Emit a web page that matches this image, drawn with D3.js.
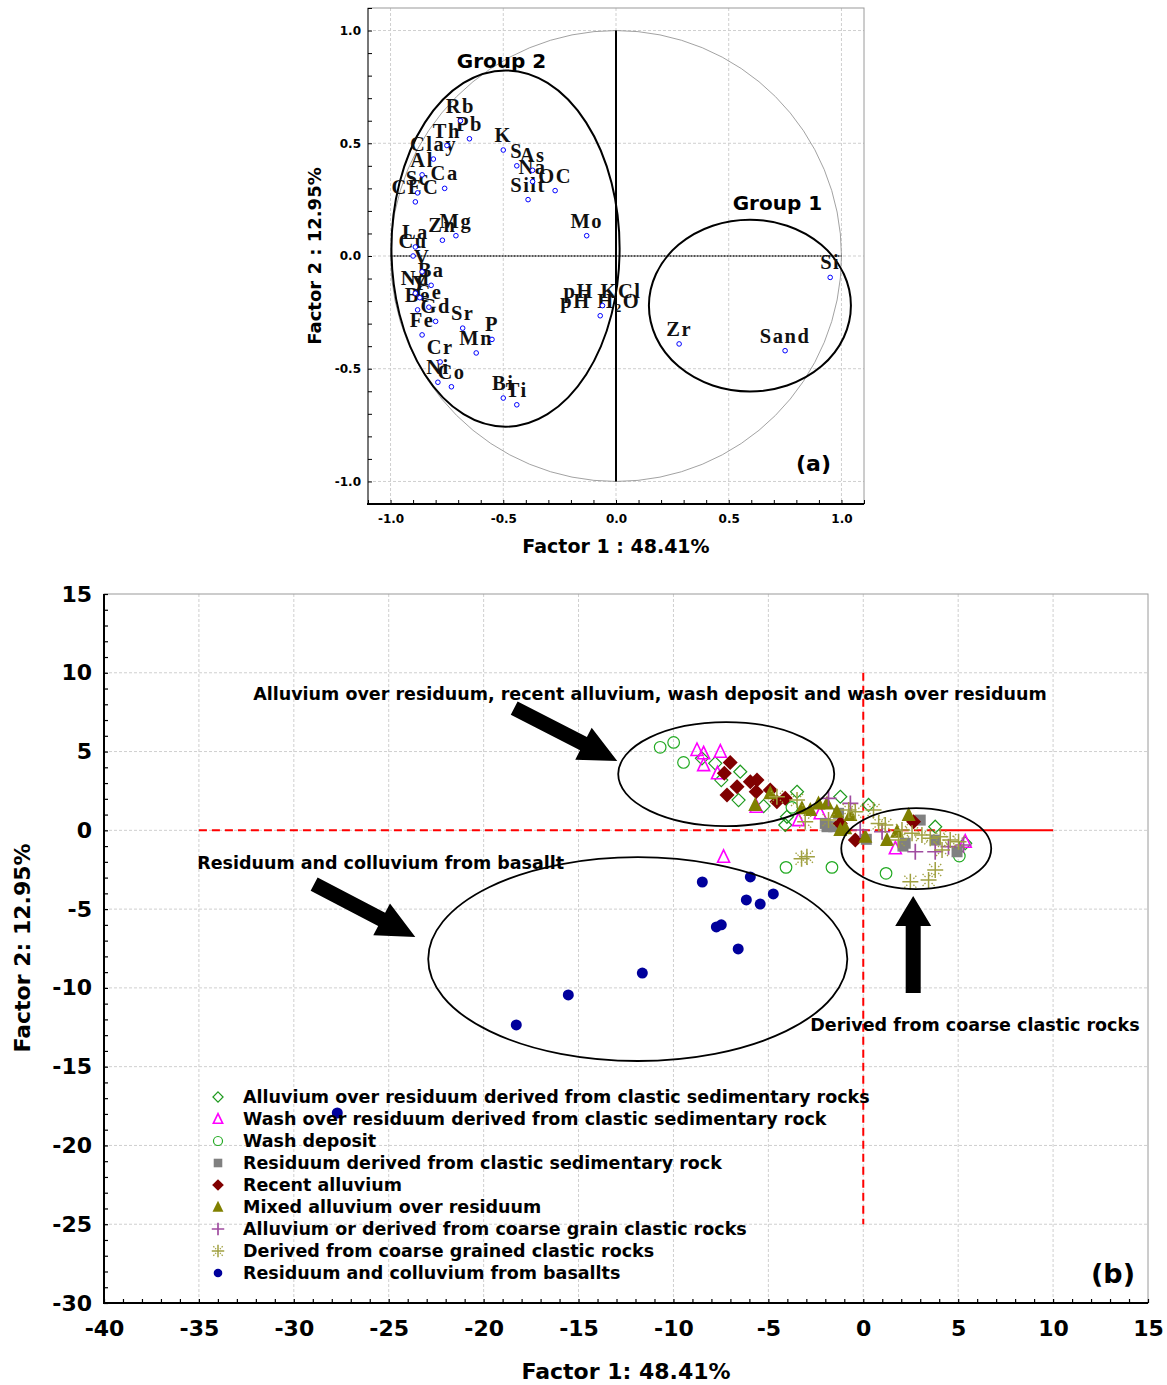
<!DOCTYPE html>
<html><head><meta charset="utf-8">
<script src="https://cdn.jsdelivr.net/npm/d3@7"></script>
<style>body{margin:0;background:#fff}</style>
</head><body>
<svg id="c" width="1167" height="1385"></svg>
<script>
// ---------------- Panel (a) data ----------------
const varNames = ["Rb","Pb","Th","Clay","Al","Ca","Sc","CEC","K","S","As","Na","OC","Silt","Mo","Mg","Zn","La","Cu","V","Ba","Nd","Y","Ce","Be","Gd","Sr","Fe","P","Mn","Cr","Ni","Co","Bi","Ti","pH KCl","pH H2O","Zr","Sand","Si"];
const loadF1 = [-0.69,-0.65,-0.75,-0.81,-0.86,-0.76,-0.88,-0.89,-0.50,-0.44,-0.37,-0.37,-0.27,-0.39,-0.13,-0.71,-0.77,-0.89,-0.90,-0.86,-0.82,-0.89,-0.87,-0.83,-0.88,-0.80,-0.68,-0.86,-0.55,-0.62,-0.78,-0.79,-0.73,-0.50,-0.44,-0.06,-0.07,0.28,0.75,0.95];
const loadF2 = [0.60,0.52,0.49,0.43,0.36,0.30,0.28,0.24,0.47,0.40,0.38,0.33,0.29,0.25,0.09,0.09,0.07,0.04,0.00,-0.07,-0.13,-0.165,-0.185,-0.227,-0.239,-0.29,-0.32,-0.35,-0.37,-0.43,-0.47,-0.56,-0.58,-0.63,-0.66,-0.22,-0.265,-0.39,-0.42,-0.095];
const topTicks = [-1, -0.5, 0, 0.5, 1];
const topTickLabels = ["-1.0","-0.5","0.0","0.5","1.0"];
const groupNames = ["Group 2","Group 1"];
const groupCx = [-0.49, 0.594];
const groupCy = [0.033, -0.22];
const groupRx = [0.506, 0.448];
const groupRy = [0.79, 0.381];
const groupLabelX = [-0.508, 0.716];
const groupLabelY = [0.836, 0.206];

// ---------------- Panel (b) data ----------------
const bxTicks = [-40,-35,-30,-25,-20,-15,-10,-5,0,5,10,15];
const bxTickLabels = ["-40","-35","-30","-25","-20","-15","-10","-5","0","5","10","15"];
const byTicks = [-30,-25,-20,-15,-10,-5,0,5,10,15];
const byTickLabels = ["-30","-25","-20","-15","-10","-5","0","5","10","15"];

const alluviumOverResiduum = [[-8.50,4.57],[-7.80,4.25],[-6.48,3.72],[-7.48,3.19],[-6.57,1.92],[-5.25,1.54],[-3.49,2.45],[-4.02,0.86],[-4.11,0.34],[-1.21,2.13],[0.28,1.61],[3.79,0.23],[5.37,-0.82]];
const washOverResiduum = [[-8.76,5.10],[-8.41,4.89],[-7.53,4.99],[-8.41,4.14],[-7.68,3.62],[-5.64,1.50],[-3.41,0.65],[-2.27,1.08],[-7.36,-1.68],[1.69,-1.14],[5.37,-0.72]];
const washDeposit = [[-10.70,5.27],[-9.99,5.58],[-9.47,4.31],[-3.76,1.46],[-4.07,-2.35],[-1.65,-2.35],[1.20,-2.73],[5.06,-1.63]];
const residuum = [[-2.00,0.44],[-1.56,0.23],[-1.30,1.08],[-1.91,0.23],[0.16,-0.57],[2.21,-0.82],[2.09,-1.00],[3.00,0.65],[3.79,-0.62],[4.94,-1.36]];
const recentAlluvium = [[-7.01,4.31],[-7.32,3.62],[-6.65,2.77],[-7.18,2.24],[-5.95,3.08],[-5.60,3.19],[-5.64,2.45],[-4.90,2.56],[-4.55,1.81],[-4.11,2.03],[-1.21,0.44],[-0.42,-0.62],[2.65,0.55]];
const mixedAlluvium = [[-5.69,1.61],[-4.90,2.35],[-3.23,1.40],[-2.79,1.29],[-2.36,1.71],[-1.91,1.71],[-1.39,1.18],[-0.68,0.97],[-0.95,0.13],[-1.21,0.02],[0.11,-0.41],[1.25,-0.62],[1.78,-0.09],[2.39,0.97]];
const coarseGrainAlluvium = [[-1.83,2.03],[-0.68,1.71],[-0.16,0.02],[0.99,-0.09],[2.74,-1.36],[3.79,-1.36],[4.49,-1.04],[5.28,-0.93]];
const coarseGrained = [[-4.55,2.13],[-3.49,1.92],[-3.06,0.55],[-1.83,0.65],[-0.77,1.29],[-0.42,1.18],[0.54,1.29],[0.81,0.44],[1.16,0.34],[1.86,-0.62],[2.04,0.02],[2.57,-0.19],[3.09,-0.30],[3.53,-0.51],[4.06,-0.41],[4.58,-0.62],[5.02,-0.72],[4.15,-1.25],[-2.97,-1.68],[-3.25,-1.80],[3.79,-2.52],[3.44,-3.15],[2.48,-3.26]];
const basalts = [[-8.48,-3.28],[-5.95,-2.96],[-4.74,-4.04],[-6.16,-4.42],[-5.43,-4.68],[-7.74,-6.13],[-7.48,-6.00],[-6.59,-7.53],[-11.64,-9.06],[-15.54,-10.45],[-18.28,-12.35],[-27.71,-17.94]];

const seriesNames = ["Alluvium over residuum derived from clastic sedimentary rocks","Wash over residuum derived from clastic sedimentary rock","Wash deposit","Residuum derived from clastic sedimentary rock","Recent alluvium","Mixed alluvium over residuum","Alluvium or derived from coarse grain clastic rocks","Derived from coarse grained clastic rocks","Residuum and colluvium from basallts"];
const seriesData = [alluviumOverResiduum, washOverResiduum, washDeposit, residuum, recentAlluvium, mixedAlluvium, coarseGrainAlluvium, coarseGrained, basalts];
const seriesMarker = ["openDiamond","openTriangle","openCircle","square","diamond","triangle","plus","asterisk","dot"];
const seriesColor = ["#1e9a1e","#ff00ff","#22aa22","#808080","#800000","#808000","#a04ca0","#a0a040","#00009c"];

const clusterCx = [-7.22, 2.79, -11.88];
const clusterCy = [3.57, -1.16, -8.17];
const clusterRx = [5.69, 3.95, 11.04];
const clusterRy = [3.30, 2.57, 6.47];

const annotTexts = ["Alluvium over residuum, recent alluvium, wash deposit and wash over residuum","Residuum and colluvium from basallt","Derived from coarse clastic rocks"];
const annotX = [-32.14, -35.09, -2.79];
const annotY = [8.27, -2.45, -12.74];
// arrows: tail (x1,y1) -> tip (x2,y2)
const arrowX1 = [-18.39, -28.93, 2.63];
const arrowY1 = [7.76, -3.41, -10.32];
const arrowX2 = [-12.96, -23.60, 2.63];
const arrowY2 = [4.40, -6.77, -4.17];

// ---------------- drawing ----------------
const svg = d3.select("#c");
svg.append("rect").attr("width",1167).attr("height",1385).attr("fill","#fff");
const SANS = "'DejaVu Sans', Verdana, sans-serif";
const SERIF = "'Liberation Serif', 'Times New Roman', serif";

// ===== Panel (a) =====
const xa = d3.scaleLinear([-1.1,1.1],[368,864]);
const ya = d3.scaleLinear([-1.1,1.1],[504,8]);
const ga = svg.append("g");

ga.append("g").selectAll("line").data(topTicks).join("line")
  .attr("x1",d=>xa(d)).attr("x2",d=>xa(d)).attr("y1",ya(1.1)).attr("y2",ya(-1.1))
  .attr("stroke","#cfcfcf").attr("stroke-dasharray","3,2");
ga.append("g").selectAll("line").data(topTicks).join("line")
  .attr("y1",d=>ya(d)).attr("y2",d=>ya(d)).attr("x1",xa(-1.1)).attr("x2",xa(1.1))
  .attr("stroke","#cfcfcf").attr("stroke-dasharray","3,2");

ga.append("rect").attr("x",xa(-1.1)).attr("y",ya(1.1)).attr("width",xa(1.1)-xa(-1.1)).attr("height",ya(-1.1)-ya(1.1))
  .attr("fill","none").attr("stroke","#9a9a9a").attr("stroke-width",1);
ga.append("line").attr("x1",xa(-1.1)).attr("x2",xa(-1.1)).attr("y1",ya(1.1)).attr("y2",ya(-1.1)).attr("stroke","#777").attr("stroke-width",2);
ga.append("line").attr("x1",xa(-1.1)-1).attr("x2",xa(1.1)).attr("y1",ya(-1.1)).attr("y2",ya(-1.1)).attr("stroke","#000").attr("stroke-width",2);

const topMinor = d3.range(-11,12).map(i=>i/10);
ga.append("g").attr("transform",`translate(0,${ya(-1.1)})`)
  .call(d3.axisBottom(xa).tickValues(topMinor).tickSize(-4).tickFormat(""))
  .call(g=>g.select(".domain").remove()).selectAll("line").attr("stroke","#000");
ga.append("g").attr("transform",`translate(${xa(-1.1)},0)`)
  .call(d3.axisLeft(ya).tickValues(topMinor).tickSize(-4).tickFormat(""))
  .call(g=>g.select(".domain").remove()).selectAll("line").attr("stroke","#000");

ga.append("g").attr("transform",`translate(0,${ya(-1.1)})`)
  .call(d3.axisBottom(xa).tickValues(topTicks).tickFormat((d,i)=>topTickLabels[i]).tickSize(0).tickPadding(10))
  .call(g=>g.select(".domain").remove())
  .selectAll("text").attr("font-family",SANS).attr("font-weight","bold").attr("font-size",12).attr("fill","#000");
ga.append("g").attr("transform",`translate(${xa(-1.1)},0)`)
  .call(d3.axisLeft(ya).tickValues(topTicks).tickFormat((d,i)=>topTickLabels[i]).tickSize(0).tickPadding(7))
  .call(g=>g.select(".domain").remove())
  .selectAll("text").attr("font-family",SANS).attr("font-weight","bold").attr("font-size",12).attr("fill","#000");

ga.append("ellipse").attr("cx",xa(0)).attr("cy",ya(0)).attr("rx",xa(1)-xa(0)).attr("ry",ya(0)-ya(1))
  .attr("fill","none").attr("stroke","#8a8a8a").attr("stroke-width",0.8);
ga.append("line").attr("x1",xa(-1)).attr("x2",xa(1)).attr("y1",ya(0)).attr("y2",ya(0))
  .attr("stroke","#222").attr("stroke-width",1.6).attr("stroke-dasharray","2,1");
ga.append("line").attr("x1",xa(0)).attr("x2",xa(0)).attr("y1",ya(1)).attr("y2",ya(-1))
  .attr("stroke","#000").attr("stroke-width",2);

groupNames.forEach((n,i)=>{
  ga.append("ellipse").attr("cx",xa(groupCx[i])).attr("cy",ya(groupCy[i]))
    .attr("rx",xa(groupRx[i])-xa(0)).attr("ry",ya(0)-ya(groupRy[i]))
    .attr("fill","none").attr("stroke","#000").attr("stroke-width",2);
  ga.append("text").attr("x",xa(groupLabelX[i])).attr("y",ya(groupLabelY[i]))
    .attr("text-anchor","middle").attr("font-family",SANS).attr("font-weight","bold").attr("font-size",20).text(n);
});

varNames.forEach((n,i)=>{
  const px = xa(loadF1[i]), py = ya(loadF2[i]);
  const t = ga.append("text").attr("x",px).attr("y",py-8).attr("text-anchor","middle")
    .attr("font-family",SERIF).attr("font-weight","bold").attr("font-size",20.5).attr("letter-spacing","1.5px").attr("fill","#111");
  if (n === "pH H2O") {
    t.append("tspan").text("pH H");
    t.append("tspan").attr("font-size",13).attr("dy",4).text("2");
    t.append("tspan").attr("dy",-4).text("O");
  } else t.text(n);
});
ga.append("g").selectAll("circle").data(varNames).join("circle")
  .attr("cx",(d,i)=>xa(loadF1[i])).attr("cy",(d,i)=>ya(loadF2[i])).attr("r",2.3)
  .attr("fill","#fff").attr("stroke","#0000ff").attr("stroke-width",1);

ga.append("text").attr("x",xa(0.876)).attr("y",ya(-0.955)).attr("text-anchor","middle")
  .attr("font-family",SANS).attr("font-weight","bold").attr("font-size",22).text("(a)");
ga.append("text").attr("x",xa(0)).attr("y",553).attr("text-anchor","middle")
  .attr("font-family",SANS).attr("font-weight","bold").attr("font-size",19).text("Factor 1 : 48.41%");
ga.append("text").attr("transform",`translate(321,${ya(0)}) rotate(-90)`).attr("text-anchor","middle")
  .attr("font-family",SANS).attr("font-weight","bold").attr("font-size",18).text("Factor 2 : 12.95%");

// ===== Panel (b) =====
const xb = d3.scaleLinear([-40,15],[104,1148]);
const yb = d3.scaleLinear([-30,15],[1303,594]);
const gb = svg.append("g");

gb.append("g").selectAll("line").data(bxTicks.slice(1,-1)).join("line")
  .attr("x1",d=>xb(d)).attr("x2",d=>xb(d)).attr("y1",yb(15)).attr("y2",yb(-30))
  .attr("stroke","#cfcfcf").attr("stroke-dasharray","3,2");
gb.append("g").selectAll("line").data(byTicks.slice(1,-1)).join("line")
  .attr("y1",d=>yb(d)).attr("y2",d=>yb(d)).attr("x1",xb(-40)).attr("x2",xb(15))
  .attr("stroke","#cfcfcf").attr("stroke-dasharray","3,2");

gb.append("rect").attr("x",xb(-40)).attr("y",yb(15)).attr("width",xb(15)-xb(-40)).attr("height",yb(-30)-yb(15))
  .attr("fill","none").attr("stroke","#9a9a9a").attr("stroke-width",1);
gb.append("line").attr("x1",xb(-40)).attr("x2",xb(-40)).attr("y1",yb(15)).attr("y2",yb(-30)).attr("stroke","#000").attr("stroke-width",2);
gb.append("line").attr("x1",xb(-40)-1).attr("x2",xb(15)).attr("y1",yb(-30)).attr("y2",yb(-30)).attr("stroke","#000").attr("stroke-width",2);

gb.append("g").attr("transform",`translate(0,${yb(-30)})`)
  .call(d3.axisBottom(xb).tickValues(d3.range(-40,16,1)).tickSize(-4).tickFormat(""))
  .call(g=>g.select(".domain").remove()).selectAll("line").attr("stroke","#000").attr("stroke-width",1.2);
gb.append("g").attr("transform",`translate(${xb(-40)},0)`)
  .call(d3.axisLeft(yb).tickValues(d3.range(-30,16,1)).tickSize(-4).tickFormat(""))
  .call(g=>g.select(".domain").remove()).selectAll("line").attr("stroke","#000").attr("stroke-width",1.2);

gb.append("g").attr("transform",`translate(0,${yb(-30)})`)
  .call(d3.axisBottom(xb).tickValues(bxTicks).tickFormat((d,i)=>bxTickLabels[i]).tickSize(0).tickPadding(17))
  .call(g=>g.select(".domain").remove())
  .selectAll("text").attr("font-family",SANS).attr("font-weight","bold").attr("font-size",22).attr("fill","#000");
gb.append("g").attr("transform",`translate(${xb(-40)},0)`)
  .call(d3.axisLeft(yb).tickValues(byTicks).tickFormat((d,i)=>byTickLabels[i]).tickSize(0).tickPadding(12))
  .call(g=>g.select(".domain").remove())
  .selectAll("text").attr("font-family",SANS).attr("font-weight","bold").attr("font-size",22).attr("fill","#000");

gb.append("line").attr("x1",xb(-35)).attr("x2",xb(4)).attr("y1",yb(0)).attr("y2",yb(0))
  .attr("stroke","#ff0000").attr("stroke-width",2).attr("stroke-dasharray","8,5");
gb.append("line").attr("x1",xb(4)).attr("x2",xb(10)).attr("y1",yb(0)).attr("y2",yb(0))
  .attr("stroke","#ff0000").attr("stroke-width",2);
gb.append("line").attr("x1",xb(0)).attr("x2",xb(0)).attr("y1",yb(10)).attr("y2",yb(-25))
  .attr("stroke","#ff0000").attr("stroke-width",2).attr("stroke-dasharray","8,5");

function marker(g, type, color, s) {
  switch(type) {
    case "openDiamond": g.append("path").attr("d",`M0,${-6.5*s}L${6.5*s},0L0,${6.5*s}L${-6.5*s},0Z`).attr("fill","none").attr("stroke",color).attr("stroke-width",1.2); break;
    case "openTriangle": g.append("path").attr("d",`M0,${-7*s}L${6*s},${5.5*s}L${-6*s},${5.5*s}Z`).attr("fill","none").attr("stroke",color).attr("stroke-width",1.6); break;
    case "openCircle": g.append("circle").attr("r",5.8*s).attr("fill","none").attr("stroke",color).attr("stroke-width",1.2); break;
    case "square": g.append("rect").attr("x",-5.5*s).attr("y",-5.5*s).attr("width",11*s).attr("height",11*s).attr("fill",color); break;
    case "diamond": g.append("path").attr("d",`M0,${-7.5*s}L${7.5*s},0L0,${7.5*s}L${-7.5*s},0Z`).attr("fill",color); break;
    case "triangle": g.append("path").attr("d",`M0,${-8*s}L${7*s},${6*s}L${-7*s},${6*s}Z`).attr("fill",color); break;
    case "plus": g.append("path").attr("d",`M0,${-8*s}V${8*s}M${-8*s},0H${8*s}`).attr("stroke",color).attr("stroke-width",1.7); break;
    case "asterisk":
      g.append("path").attr("d",`M0,${-8*s}V${8*s}M${-8*s},0H${8*s}`).attr("stroke",color).attr("stroke-width",1.5);
      g.append("path").attr("d",`M${-6*s},${-6*s}L${-2.5*s},${-2.5*s}M${6*s},${-6*s}L${2.5*s},${-2.5*s}M${-6*s},${6*s}L${-2.5*s},${2.5*s}M${6*s},${6*s}L${2.5*s},${2.5*s}`)
        .attr("stroke",color).attr("stroke-width",1.3).attr("stroke-dasharray","1.5,1.2"); break;
    case "dot": g.append("circle").attr("r",5.5*s).attr("fill",color); break;
  }
}

seriesData.forEach((data,si)=>{
  const gs = gb.append("g");
  data.forEach(p=>{
    const g = gs.append("g").attr("transform",`translate(${xb(p[0])},${yb(p[1])})`);
    marker(g, seriesMarker[si], seriesColor[si], 1);
  });
});

clusterCx.forEach((c,i)=>{
  gb.append("ellipse").attr("cx",xb(c)).attr("cy",yb(clusterCy[i]))
    .attr("rx",xb(clusterRx[i])-xb(0)).attr("ry",yb(0)-yb(clusterRy[i]))
    .attr("fill","none").attr("stroke","#000").attr("stroke-width",1.8);
});

function arrow(x1,y1,x2,y2,sw,hw,hl){
  const dx=x2-x1, dy=y2-y1, L=Math.hypot(dx,dy), ux=dx/L, uy=dy/L, nx=-uy, ny=ux;
  const bx=x2-ux*hl, by=y2-uy*hl;
  const pts=[[x1+nx*sw/2,y1+ny*sw/2],[bx+nx*sw/2,by+ny*sw/2],[bx+nx*hw/2,by+ny*hw/2],[x2,y2],[bx-nx*hw/2,by-ny*hw/2],[bx-nx*sw/2,by-ny*sw/2],[x1-nx*sw/2,y1-ny*sw/2]];
  return "M"+pts.map(p=>p.join(",")).join("L")+"Z";
}
arrowX1.forEach((a,i)=>{
  gb.append("path").attr("d",arrow(xb(a),yb(arrowY1[i]),xb(arrowX2[i]),yb(arrowY2[i]),15,36,i===2?30:38)).attr("fill","#000");
});

annotTexts.forEach((t,i)=>{
  gb.append("text").attr("x",xb(annotX[i])).attr("y",yb(annotY[i]))
    .attr("font-family",SANS).attr("font-weight","bold").attr("font-size",17.5).text(t);
});

const lg = gb.append("g");
seriesNames.forEach((n,i)=>{
  const cy = 1097 + i*22;
  const g = lg.append("g").attr("transform",`translate(218,${cy})`);
  marker(g, seriesMarker[i], seriesColor[i], 0.78);
  lg.append("text").attr("x",243).attr("y",cy+6).attr("font-family",SANS).attr("font-weight","bold").attr("font-size",17.5).text(n);
});

gb.append("text").attr("x",1135).attr("y",1283).attr("text-anchor","end")
  .attr("font-family",SANS).attr("font-weight","bold").attr("font-size",27).text("(b)");
gb.append("text").attr("x",626).attr("y",1379).attr("text-anchor","middle")
  .attr("font-family",SANS).attr("font-weight","bold").attr("font-size",22).text("Factor 1: 48.41%");
gb.append("text").attr("transform",`translate(30,948) rotate(-90)`).attr("text-anchor","middle")
  .attr("font-family",SANS).attr("font-weight","bold").attr("font-size",22).text("Factor 2: 12.95%");
</script>
</body></html>
